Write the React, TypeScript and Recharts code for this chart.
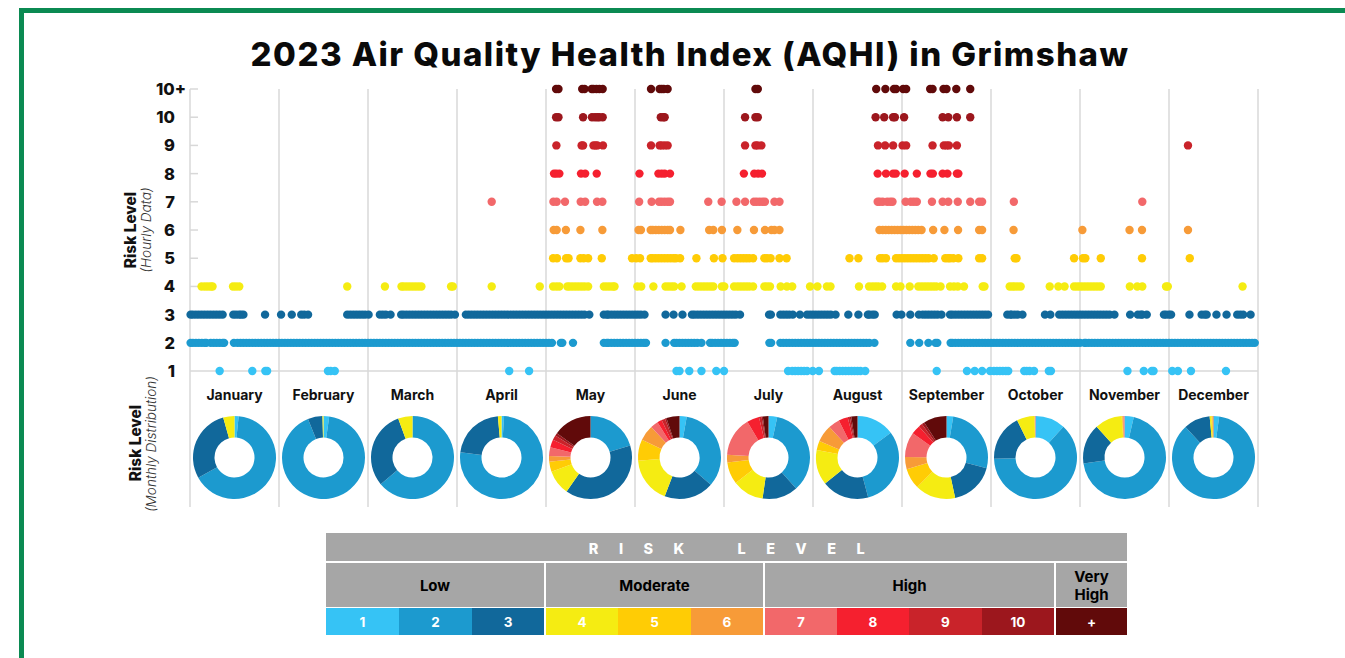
import { Cell, Pie, PieChart, ReferenceLine, Scatter, ScatterChart, XAxis, YAxis } from 'recharts'

// x values are "days" on a 30-day month, every month is the same width in the picture
const monthTicks = [0, 30, 60, 90, 120, 150, 180, 210, 240, 270, 300, 330, 360]
const months = ['January', 'February', 'March', 'April', 'May', 'June', 'July', 'August', 'September', 'October', 'November', 'December']
const levelTicks = [1, 2, 3, 4, 5, 6, 7, 8, 9, 10, 11]
const levelLabels = ['1', '2', '3', '4', '5', '6', '7', '8', '9', '10', '10+']
const levelColors = ['#36C3F5', '#1C9ACF', '#11689B', '#F5EC12', '#FFCC05', '#F79B38', '#F2686A', '#F5202F', '#C9232A', '#9C171D', '#610A0A']

const level1Days = [10, 21, 25.4, 26, 46.5, 47.4, 48.8, 107.6, 114.3, 164, 165, 168.3, 172.4, 177.4, 180, 201.6, 203, 204, 205, 206, 207, 208, 209.9, 212, 217.3, 218, 219, 220, 221, 222, 223, 224, 225, 226, 227.6, 251.7, 261.9, 264.5, 267, 269.7, 271, 272, 273, 274, 275, 275.8, 281.2, 282, 283, 284.5, 289.5, 290.2, 316, 321.5, 324.2, 324.8, 331.1, 333, 337.4, 349.2]
const level2Days = [0.2, 1, 2, 3, 4, 5, 5.5, 7, 8, 9, 10, 11, 11.5, 14.8, 16, 17, 18, 19, 20, 21, 22, 23, 24, 25, 26, 27, 28, 29, 30, 31, 32, 33, 34, 35, 36, 37, 38, 39, 40, 41, 42, 43, 44, 45, 46, 47, 48, 49, 50, 51, 52, 53, 54, 55, 56, 57, 58, 59, 60, 61, 62, 63, 64, 65, 66, 67, 68, 69, 70, 71, 72, 73, 74, 75, 76, 77, 78, 79, 80, 81, 82, 83, 84, 85, 86, 87, 88, 89, 90, 91, 92, 93, 94, 95, 96, 97, 98, 99, 100, 101, 102, 103, 104, 105, 106, 107, 108, 109, 110, 111, 112, 113, 114, 115, 116, 117, 118, 119, 120, 121, 122, 125, 125.5, 129.1, 139.5, 140.5, 141, 142, 143, 144, 145, 146, 147, 148, 149, 150, 151, 152, 153, 153.7, 160.3, 163.2, 164, 165, 166, 167, 168, 169, 170, 171, 172.4, 175.3, 176, 177, 178, 179, 180, 181, 182, 183, 183.6, 195.3, 195.9, 199, 200, 201, 202, 203, 204, 205, 206, 207, 208, 209, 210, 211, 212, 213, 214, 215, 216, 217, 218, 219, 220, 221, 222, 223, 224, 225, 226, 227, 228, 229, 230.7, 242.8, 245.8, 248.9, 251.3, 251.9, 256.4, 257, 258, 259, 260, 261, 262, 263, 264, 265, 266, 267, 268, 269, 270, 271, 272, 273, 274, 275, 276, 277, 278, 279, 280, 281, 282, 283, 284, 285, 286, 287, 288, 289, 290, 291, 292, 293, 294, 295, 296, 297, 298, 299, 300, 301.5, 302, 303, 304, 305, 306, 307, 308, 309, 310, 311, 312, 313, 314, 315, 316, 317, 318, 319, 320, 321, 322, 323, 324, 325, 326, 327, 328, 329, 330, 331, 332, 333, 334, 335, 336, 337, 338, 339, 340, 341, 342, 343, 344, 345, 346, 347, 348, 349, 350, 351, 352, 353, 354, 355, 356, 357, 358, 358.9]
const level3Days = [0.2, 1, 2, 3, 4, 5, 6, 7, 8, 9, 10, 11, 14.6, 15.5, 16.5, 17.2, 18, 25.3, 30.7, 34.3, 37.5, 38.5, 39.8, 53, 54, 55, 56, 57, 58, 59, 60.2, 64, 65, 66, 67.6, 71.2, 72, 73, 74, 75, 76, 77, 78, 79, 80, 81, 82, 83, 84, 85, 86, 87, 88, 89.3, 93, 94, 95, 96, 97, 98, 99, 100, 101, 102, 103, 104, 105, 106, 107, 108, 109, 110, 111, 112, 113, 114, 115, 116, 117, 118, 119, 120, 121, 122, 123, 124, 125, 126, 127, 128, 129, 130, 131, 132, 133, 134.6, 139.5, 140.5, 141, 142, 143, 144, 145, 146, 147, 148, 149, 150, 151, 152, 153.2, 160.3, 163, 166, 169.2, 170, 171, 172, 173, 174, 175, 176, 177, 178, 179, 180, 181, 182, 183, 184, 185.4, 195.2, 195.8, 199, 200, 201, 202, 203.2, 205.6, 208, 209, 210, 211, 212, 213, 214, 215, 216, 217.6, 221.9, 225.3, 228.5, 229, 230, 230.8, 238.2, 239.8, 242.8, 245.7, 247, 248, 249, 250, 251, 252, 253.3, 256.2, 257, 258, 259, 260, 261, 262, 263, 264, 265, 266, 267, 268, 269, 275.5, 276.5, 277, 278, 279, 280.6, 288.2, 290, 293, 294, 295, 296, 297, 298, 299, 300, 301, 302, 303, 304, 305, 306, 307, 308, 309, 310, 311.6, 316.9, 319.5, 320.5, 321, 322.5, 328.3, 329, 330, 330.7, 336.9, 341, 342, 342.7, 346, 349.4, 353, 354, 355, 357.5]
const level4Days = [3.9, 5, 6, 7, 7.6, 14.5, 15.5, 16.6, 53, 65.7, 71.3, 72, 73, 74, 75, 76, 77, 78, 88, 88.6, 101.7, 117.9, 122.4, 123.5, 124.5, 127.2, 128, 129, 130, 131, 132, 133, 134.2, 139.5, 140.5, 141.5, 142.5, 143.1, 150.8, 152.1, 156.2, 160.3, 161.3, 162.3, 163.2, 165.7, 170.5, 171.5, 172.5, 173.5, 174.5, 175.5, 176.4, 179.3, 180.1, 183.4, 184.5, 185.5, 186.5, 187.5, 188.5, 189.8, 193.6, 194.5, 195.5, 199.1, 201.2, 203, 209, 211.5, 214.7, 215.9, 225.5, 228.9, 230, 231, 232, 233.3, 238, 239.5, 242.6, 245.5, 246.5, 247.5, 248.5, 249.5, 250.5, 251.5, 253, 256.2, 257.5, 258.8, 260.9, 267.2, 267.8, 276.3, 277.2, 278, 279, 280, 289.8, 292.7, 294.8, 298, 299, 300, 301, 302, 303, 304, 305, 306, 307, 316.8, 319.3, 321, 329, 329.6, 354.8]
const level5Days = [122.4, 123.7, 126.8, 127.6, 131.6, 132.7, 134.2, 138.8, 149, 150.4, 151.7, 155.3, 156, 157, 158, 159, 160, 161, 162, 163, 163.8, 165.2, 170.7, 176.6, 179.5, 183.4, 184.5, 185.5, 186.5, 187.5, 188.5, 189.8, 193.6, 194.5, 195.7, 198.7, 201.1, 222.3, 225.3, 232.6, 233.5, 234.6, 238, 239, 240, 241, 242, 243, 244, 245, 246, 247, 248, 249, 250.7, 254.6, 255.5, 256.2, 257.3, 259, 266, 267, 278, 278.6, 298, 301, 301.8, 307, 320.9, 337]
const level6Days = [122.6, 123.6, 126.7, 131.6, 139, 151.2, 152, 155.3, 156, 157, 158, 159, 160, 161, 161.8, 165.3, 175, 176.4, 179.3, 184.5, 190.1, 193.8, 196, 197, 198.7, 232.4, 233.5, 234.5, 235.5, 236.5, 237.5, 238.5, 239.5, 240.5, 241.5, 242.5, 243.5, 244.5, 245.5, 246.6, 250.5, 254.3, 258.9, 266, 267, 277.6, 300.8, 316.7, 320.9, 336.4]
const level7Days = [101.7, 122.5, 123.6, 126.4, 131.7, 133.2, 137.2, 139, 151.4, 155.6, 158.1, 159, 160, 161, 161.8, 174.7, 179.2, 184.2, 187.1, 190.1, 191, 192, 193, 193.8, 197, 198.7, 231.8, 232.5, 233.5, 235, 236, 236.8, 241.2, 243, 244, 245, 250.1, 253.7, 255.6, 258.8, 263, 266, 267, 277.7, 321]
const level8Days = [122.7, 123.5, 124.5, 131.8, 133.2, 137.1, 151.5, 157.9, 159, 160, 161.8, 186.7, 190.2, 191.5, 192.8, 231.8, 234.6, 237, 237.9, 240.9, 245, 249.6, 250.4, 253.7, 255.3, 258.5, 259]
const level9Days = [123.5, 132, 132.5, 136, 136.7, 137.3, 139.2, 155.4, 158.3, 159, 160, 161, 187.1, 190.6, 191.3, 192.6, 231.9, 234.3, 237, 240.2, 241.4, 250.3, 254.1, 255, 255.8, 258.5, 336.4]
const level10Days = [123.4, 124.2, 132.5, 135.5, 136.5, 137.3, 138, 139.1, 158.7, 159.5, 160, 187.1, 190.6, 191.4, 231.1, 234, 237, 237.6, 240.7, 253.7, 255.6, 258.5, 263]
const level11Days = [123.4, 124.2, 132.2, 133, 135.4, 136, 137, 138, 139.1, 155.4, 158.3, 159, 159.7, 161, 190.6, 191.4, 231.3, 234.4, 237.3, 238, 240.4, 241.4, 249.5, 250.3, 254, 255, 258.3, 263]
const levelDays = [level1Days, level2Days, level3Days, level4Days, level5Days, level6Days, level7Days, level8Days, level9Days, level10Days, level11Days]

// share of hours per level 1..10+, clockwise from the top
const januaryShares = [1.6, 65.3, 28.7, 4.4, 0, 0, 0, 0, 0, 0, 0]
const februaryShares = [2.2, 91.7, 5.7, 0.4, 0, 0, 0, 0, 0, 0, 0]
const marchShares = [0, 63.9, 30.5, 5.6, 0, 0, 0, 0, 0, 0, 0]
const aprilShares = [1, 76, 21.6, 1.4, 0, 0, 0, 0, 0, 0, 0]
const mayShares = [0, 20.3, 39.4, 9.7, 3.9, 2.2, 3.4, 3, 1.9, 1.1, 15]
const juneShares = [2.8, 33.6, 19.4, 18, 8.2, 6.1, 3, 1.8, 1.4, 0.6, 5.1]
const julyShares = [3.4, 35, 13.9, 12.2, 8.6, 3, 15.4, 4.8, 1, 0.5, 2.2]
const augustShares = [14.8, 31, 18.4, 13.6, 3.6, 6.7, 4.4, 3.6, 0.8, 0.6, 2.4]
const septemberShares = [2.6, 26.5, 17.5, 15.8, 8, 4.7, 9.7, 3.6, 1.4, 1.1, 9]
const octoberShares = [11.7, 62.7, 18.2, 6.9, 0.1, 0.1, 0.2, 0, 0, 0, 0]
const novemberShares = [3.6, 69.1, 15.6, 10.6, 0.3, 0.4, 0.4, 0, 0, 0, 0]
const decemberShares = [2.2, 86, 10.3, 0.7, 0.4, 0.3, 0, 0, 0.1, 0, 0]
const monthShares = [januaryShares, februaryShares, marchShares, aprilShares, mayShares, juneShares, julyShares, augustShares, septemberShares, octoberShares, novemberShares, decemberShares]

const legendGroups = [
  { label: 'Low', left: 326, width: 218 },
  { label: 'Moderate', left: 546, width: 217 },
  { label: 'High', left: 765, width: 289 },
  { label: 'Very\nHigh', left: 1056, width: 71 }
]
const legendLevels = ['1', '2', '3', '4', '5', '6', '7', '8', '9', '10', '+']
const legendLefts = [326, 399, 472, 546, 618, 691, 765, 837, 909, 982, 1056]
const legendWidths = [73, 73, 72, 72, 73, 72, 72, 72, 73, 72, 71]

const FONT = 'Inter, sans-serif'
const GRID = '#d8d8d8'

const LevelTick = (props: any) => {
  const { y, payload } = props
  const label = levelLabels[payload.value - 1]

  return (
    <text
      x={label === '10+' ? 186 : 175}
      y={y + 6}
      textAnchor="end"
      fontFamily={FONT}
      fontWeight={800}
      fontSize={16.5}
      fill="#111"
    >
      {label}
    </text>
  )
}

const Dot = (props: any) => <circle cx={props.cx} cy={props.cy} r={4.2} fill={props.fill} />

const SideLabel = ({ text, x, y, italic }: { text: string, x: number, y: number, italic?: boolean }) => (
  <div
    style={{
      position: 'absolute',
      left: x,
      top: y,
      transform: 'translate(-50%, -50%) rotate(-90deg)',
      whiteSpace: 'nowrap',
      fontFamily: FONT,
      fontWeight: italic ? 300 : 800,
      fontStyle: italic ? 'italic' : 'normal',
      fontSize: italic ? 13.6 : 15.4,
      color: italic ? '#333' : '#111'
    }}
  >
    {text}
  </div>
)

const App = () => {
  return (
    <div style={{ position: 'absolute', left: 0, top: 0, width: 1345, height: 658, overflow: 'hidden', background: '#fff', fontFamily: FONT }}>
      <div style={{ position: 'absolute', left: 19, top: 8, right: 0, height: 5, background: '#0B8A52' }} />
      <div style={{ position: 'absolute', left: 19, top: 8, bottom: 0, width: 5, background: '#0B8A52' }} />

      <div style={{ position: 'absolute', left: 0, width: 1380, top: 34, textAlign: 'center', fontWeight: 800, fontSize: 33, letterSpacing: 1.45, lineHeight: '40px', color: '#0a0a0a', whiteSpace: 'nowrap' }}>
        2023 Air Quality Health Index (AQHI) in Grimshaw
      </div>

      <div style={{ position: 'absolute', left: 0, top: 0 }}>
        <ScatterChart width={1345} height={658} margin={{ top: 89, left: 189, right: 87, bottom: 150 }}>
          <XAxis type="number" dataKey="day" domain={[0, 360]} ticks={monthTicks} height={1} axisLine={false} tickLine={false} tick={false} interval={0} />
          <YAxis type="number" dataKey="level" domain={[-3.82, 11]} ticks={levelTicks} width={1} axisLine={false} tickLine={false} tick={<LevelTick />} interval={0} />
          {monthTicks.map((day) => (
            <ReferenceLine key={day} x={day} stroke={GRID} strokeWidth={1.5} />
          ))}
          {levelTicks.map((level) => (
            <ReferenceLine key={level} segment={[{ x: 0, y: level }, { x: level === 1 ? 360 : 2.7, y: level }]} stroke={GRID} strokeWidth={1.5} />
          ))}
          {levelDays.map((days, i) => (
            <Scatter
              key={i}
              data={days.map((day) => ({ day, level: i + 1 }))}
              fill={levelColors[i]}
              shape={<Dot />}
              isAnimationActive={false}
            />
          ))}
        </ScatterChart>
      </div>

      <SideLabel text="Risk Level" x={130} y={230} />
      <SideLabel text="(Hourly Data)" x={146} y={230} italic />
      <SideLabel text="Risk Level" x={135} y={443} />
      <SideLabel text="(Monthly Distribution)" x={151} y={444} italic />

      {months.map((month, m) => (
        <div key={month} style={{ position: 'absolute', left: 190 + m * 89, top: 386, width: 89, textAlign: 'center', fontWeight: 700, fontSize: 14, lineHeight: '18px', color: '#111', whiteSpace: 'nowrap' }}>
          {month}
        </div>
      ))}

      {monthShares.map((shares, m) => (
        <div key={m} style={{ position: 'absolute', left: 190 + m * 89, top: 407 }}>
          <PieChart width={89} height={100} margin={{ top: 0, left: 0, right: 0, bottom: 0 }}>
            <Pie
              data={shares.map((value, i) => ({ name: levelLabels[i], value }))}
              dataKey="value"
              cx="50%"
              cy={50.5}
              innerRadius={20}
              outerRadius={41.5}
              startAngle={90}
              endAngle={-270}
              stroke="none"
              isAnimationActive={false}
            >
              {shares.map((_, i) => <Cell key={i} fill={levelColors[i]} />)}
            </Pie>
          </PieChart>
        </div>
      ))}

      <div style={{ position: 'absolute', left: 326, top: 533, width: 801, height: 28, boxSizing: 'border-box', paddingLeft: 21, background: '#A6A6A6', color: '#fff', fontWeight: 800, fontSize: 14.5, lineHeight: '32px', letterSpacing: 20.5, wordSpacing: 9, textAlign: 'center', whiteSpace: 'pre' }}>
        RISK LEVEL
      </div>
      {legendGroups.map((group) => (
        <div key={group.label} style={{ position: 'absolute', left: group.left, top: 563, width: group.width, height: 44, boxSizing: 'border-box', paddingTop: 2, background: '#A6A6A6', color: '#000', fontWeight: 700, fontSize: 15, lineHeight: '18px', display: 'flex', alignItems: 'center', justifyContent: 'center', textAlign: 'center', whiteSpace: 'pre' }}>
          {group.label}
        </div>
      ))}
      {legendLevels.map((label, i) => (
        <div key={label} style={{ position: 'absolute', left: legendLefts[i], top: 608, width: legendWidths[i], height: 27, background: levelColors[i], color: '#fff', fontWeight: 700, fontSize: 13.5, lineHeight: '29px', textAlign: 'center' }}>
          {label}
        </div>
      ))}
    </div>
  )
}

export default App
